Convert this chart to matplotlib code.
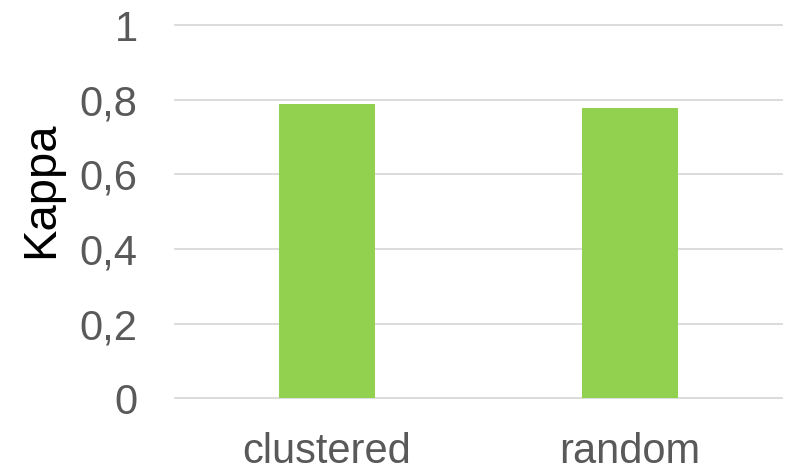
import matplotlib.pyplot as plt
import numpy as np

# Kappa per sampling scheme
categories = ["clustered", "random"]
kappa = [0.788, 0.777]
yticks = [0, 0.2, 0.4, 0.6, 0.8, 1]
ytick_labels = ["0", "0,2", "0,4", "0,6", "0,8", "1"]

plt.rcParams['font.family'] = ['Liberation Sans', 'DejaVu Sans']

fig = plt.figure(figsize=(7.92, 4.67), dpi=100)
ax = fig.add_axes([0.221, 0.147, 0.766, 0.799])

x = np.arange(len(categories))
ax.bar(x, kappa, width=0.316, color='#92D050', zorder=3)

ax.set_xlim(-0.5, len(categories) - 0.5)
ax.set_ylim(0, 1)
ax.set_yticks(yticks)
ax.set_yticklabels(ytick_labels)
ax.set_xticks(x)
ax.set_xticklabels(categories)

# light horizontal gridlines, no frame
for y in yticks:
    ax.axhline(y, color='#D9D9D9', lw=1.3, zorder=1, clip_on=False)
for s in ax.spines.values():
    s.set_visible(False)

ax.tick_params(axis='y', length=0, pad=27, labelsize=30, labelcolor='#595959')
ax.tick_params(axis='x', length=0, pad=24, labelsize=30, labelcolor='#595959')
ax.set_ylabel("Kappa", fontsize=34, color='black')
ax.yaxis.set_label_coords(-0.1845, 0.558)

fig.savefig("out.png", dpi=100)
